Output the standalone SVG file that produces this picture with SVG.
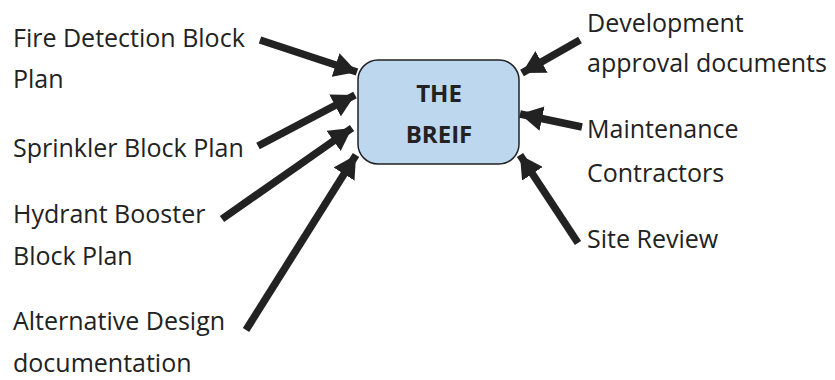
<svg xmlns="http://www.w3.org/2000/svg" width="835" height="380" viewBox="0 0 835 380">
<style>
.lbl{font-family:"Open Sans","Liberation Sans",sans-serif;font-size:25px;fill:#222}
.ttl{font-family:"Open Sans","Liberation Sans",sans-serif;font-size:24px;font-weight:bold;fill:#222;text-anchor:middle}
.arr{stroke:#222;stroke-width:7.5;fill:none;marker-end:url(#ah)}
</style>
<defs>
<marker id="ah" viewBox="0 0 10 10" refX="10" refY="5" markerWidth="3" markerHeight="3.3" orient="auto" markerUnits="strokeWidth" preserveAspectRatio="none">
<path d="M0,0 L10,5 L0,10 z" fill="#222"/>
</marker>
</defs>
<rect width="835" height="380" fill="#fff"/>
<g id="connectors">
<line class="arr" x1="260" y1="40" x2="357" y2="72"/>
<line class="arr" x1="258" y1="146" x2="355" y2="95"/>
<line class="arr" x1="222" y1="219" x2="352" y2="128"/>
<line class="arr" x1="246" y1="330" x2="356" y2="155"/>
<line class="arr" x1="580" y1="40" x2="522" y2="73"/>
<line class="arr" x1="582" y1="127" x2="520" y2="114"/>
<line class="arr" x1="578" y1="243" x2="520" y2="155"/>
</g>
<g id="brief">
<rect x="358" y="60" width="161" height="104" rx="20" fill="#bdd7ee" stroke="#222" stroke-width="1.5"/>
<text class="ttl" x="439" y="102">THE</text>
<text class="ttl" x="439" y="143">BREIF</text>
</g>
<g id="fire"><text class="lbl" x="13" y="47">Fire Detection Block</text><text class="lbl" x="13" y="88">Plan</text></g>
<g id="sprinkler"><text class="lbl" x="13" y="157">Sprinkler Block Plan</text></g>
<g id="hydrant"><text class="lbl" x="13" y="223">Hydrant Booster</text><text class="lbl" x="13" y="265">Block Plan</text></g>
<g id="alternative"><text class="lbl" x="13" y="330">Alternative Design</text><text class="lbl" x="13" y="372">documentation</text></g>
<g id="development"><text class="lbl" x="587" y="32">Development</text><text class="lbl" x="587" y="72">approval documents</text></g>
<g id="maintenance"><text class="lbl" x="587" y="138">Maintenance</text><text class="lbl" x="587" y="182">Contractors</text></g>
<g id="site"><text class="lbl" x="587" y="248">Site Review</text></g>
</svg>
